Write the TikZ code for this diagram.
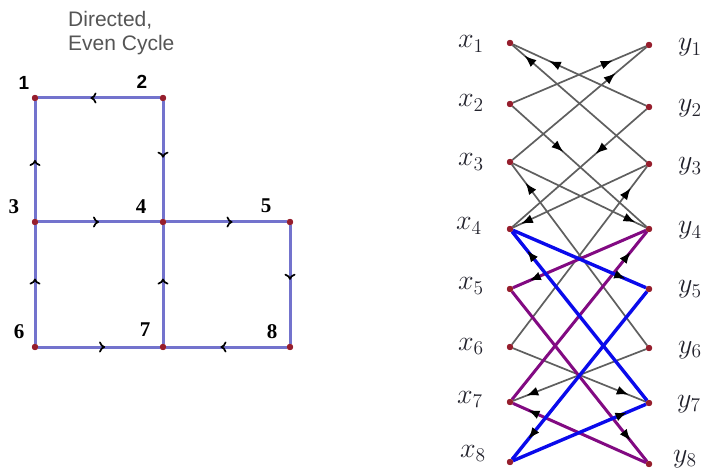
\documentclass[tikz,border=0pt]{standalone}
\usepackage{fontspec}
\usepackage{graphicx}
\newfontfamily\sansf{Liberation Sans}
\newfontfamily\seriff{Liberation Serif}
\usetikzlibrary{arrows.meta,decorations.markings}
\newcommand\biglab[1]{\scalebox{1.35}{$#1$}}
\definecolor{edgeL}{RGB}{115,115,205}
\definecolor{dotc}{RGB}{150,30,45}
\definecolor{grayE}{RGB}{95,95,95}
\definecolor{blueE}{RGB}{10,10,235}
\definecolor{purpE}{RGB}{130,10,130}
\definecolor{titlec}{RGB}{85,85,85}
\definecolor{labc}{RGB}{35,35,45}
\begin{document}
\begin{tikzpicture}[x=1pt,y=-1pt,
  dot/.style={circle,fill=dotc,inner sep=0pt,minimum size=6pt},
  ledge/.style={draw=edgeL,line width=3pt,postaction={decorate},
    decoration={markings,mark=at position #1 with {\arrow[black]{To[length=6pt,width=11pt,line width=1.7pt]}}}},
  garr/.style={draw=grayE,line width=1.7pt,postaction={decorate},
    decoration={markings,mark=at position #1 with {\arrow[black]{Latex[length=12pt,width=9pt]}}}},
  barr/.style={draw=blueE,line width=3.4pt,postaction={decorate},
    decoration={markings,mark=at position #1 with {\arrow[black]{Latex[length=12pt,width=9pt]}}}},
  parr/.style={draw=purpE,line width=3pt,postaction={decorate},
    decoration={markings,mark=at position #1 with {\arrow[black]{Latex[length=12pt,width=9pt]}}}},
  numS/.style={font=\sansf\bfseries\fontsize{19}{19}\selectfont,text=black,inner sep=0pt},
  numR/.style={font=\seriff\bfseries\fontsize{21}{21}\selectfont,text=black,inner sep=0pt},
  xlab/.style={text=labc,inner sep=0pt,font=\fontsize{20.74}{20.74}\selectfont,anchor=base east},
  ylab/.style={text=labc,inner sep=0pt,font=\fontsize{20.74}{20.74}\selectfont,anchor=base west},
]
\useasboundingbox (0,0) rectangle (704,470);
\clip (0,0) rectangle (704,470);
\fill[white] (0,0) rectangle (704,470);

% ---------- title ----------
\node[anchor=base west,inner sep=0pt,text=titlec,font=\sansf\fontsize{21}{21}\selectfont] (t1) at (68,27) {Directed,};
\node[anchor=base west,inner sep=0pt,text=titlec,font=\sansf\fontsize{21}{21}\selectfont] (t2) at (68,51) {Even Cycle};

% ---------- left graph ----------
\node[dot] (n1) at (35,98) {};
\node[dot] (n2) at (163,98) {};
\node[dot] (n3) at (35,222) {};
\node[dot] (n4) at (163,222) {};
\node[dot] (n5) at (290,222) {};
\node[dot] (n6) at (35,347) {};
\node[dot] (n7) at (163,347) {};
\node[dot] (n8) at (290,347) {};

\draw[ledge=0.57] (n2) -- (n1);
\draw[ledge=0.48] (n2) -- (n4);
\draw[ledge=0.5] (n3) -- (n1);
\draw[ledge=0.5] (n3) -- (n4);
\draw[ledge=0.55] (n4) -- (n5);
\draw[ledge=0.46] (n5) -- (n8);
\draw[ledge=0.55] (n8) -- (n7);
\draw[ledge=0.55] (n7) -- (n4);
\draw[ledge=0.55] (n6) -- (n3);
\draw[ledge=0.55] (n6) -- (n7);
\foreach \n in {n1,n2,n3,n4,n5,n6,n7,n8} {\fill[dotc] (\n) circle (3.2pt);}

\node[numS] (l1) at (24,83) {1};
\node[numS] (l2) at (142,82) {2};
\node[numR] (l3) at (14,207) {3};
\node[numR] (l4) at (141,207) {4};
\node[numR] (l5) at (266,206) {5};
\node[numR] (l6) at (19,332) {6};
\node[numR] (l7) at (145,330) {7};
\node[numR] (l8) at (272,332) {8};

% ---------- right graph ----------
\node[dot] (x1) at (510,43) {};
\node[dot] (x2) at (510,104) {};
\node[dot] (x3) at (510,162) {};
\node[dot] (x4) at (510,229) {};
\node[dot] (x5) at (510,289) {};
\node[dot] (x6) at (510,347) {};
\node[dot] (x7) at (510,402) {};
\node[dot] (x8) at (510,462) {};
\node[dot] (y1) at (649,45) {};
\node[dot] (y2) at (649,107) {};
\node[dot] (y3) at (649,164) {};
\node[dot] (y4) at (649,229) {};
\node[dot] (y5) at (649,289) {};
\node[dot] (y6) at (649,348) {};
\node[dot] (y7) at (649,403) {};
\node[dot] (y8) at (649,464) {};

% gray edges
\draw[garr=0.73] (y2) -- (x1);
\draw[garr=0.91] (y3) -- (x1);
\draw[garr=0.75] (x2) -- (y1);
\draw[garr=0.77] (x3) -- (y1);
\draw[garr=0.38] (x2) -- (y4);
\draw[garr=0.38] (y2) -- (x4);
\draw[garr=0.90] (y6) -- (x3);
\draw[garr=0.88] (x6) -- (y3);
\draw[garr=0.94] (y3) -- (x4);
\draw[garr=0.92] (x3) -- (y4);
\draw[garr=0.90] (y6) -- (x7);
\draw[garr=0.87] (x6) -- (y7);
% purple cycle
\draw[parr=0.88] (x7) -- (y4);
\draw[parr=0.88] (y4) -- (x5);
\draw[parr=0.88] (x5) -- (y8);
\draw[parr=0.89] (y8) -- (x7);
% blue cycle
\draw[barr=0.89] (y7) -- (x4);
\draw[barr=0.85] (x4) -- (y5);
\draw[barr=0.88] (y5) -- (x8);
\draw[barr=0.86] (x8) -- (y7);

\foreach \n in {x1,x2,x3,x4,x5,x6,x7,x8,y1,y2,y3,y4,y5,y6,y7,y8} {\fill[dotc] (\n) circle (3.2pt);}

% labels
\node[xlab] (lx1) at (484,48) {\biglab{x_1}};
\node[xlab] (lx2) at (484,107) {\biglab{x_2}};
\node[xlab] (lx3) at (484,166) {\biglab{x_3}};
\node[xlab] (lx4) at (482,230) {\biglab{x_4}};
\node[xlab] (lx5) at (484,290) {\biglab{x_5}};
\node[xlab] (lx6) at (484,350) {\biglab{x_6}};
\node[xlab] (lx7) at (483,403) {\biglab{x_7}};
\node[xlab] (lx8) at (486,457) {\biglab{x_8}};
\node[ylab] (ly1) at (678,51) {\biglab{y_1}};
\node[ylab] (ly2) at (678,112) {\biglab{y_2}};
\node[ylab] (ly3) at (678,170) {\biglab{y_3}};
\node[ylab] (ly4) at (678,234) {\biglab{y_4}};
\node[ylab] (ly5) at (678,293) {\biglab{y_5}};
\node[ylab] (ly6) at (678,353) {\biglab{y_6}};
\node[ylab] (ly7) at (677,407) {\biglab{y_7}};
\node[ylab] (ly8) at (673,462) {\biglab{y_8}};
\end{tikzpicture}
\end{document}
